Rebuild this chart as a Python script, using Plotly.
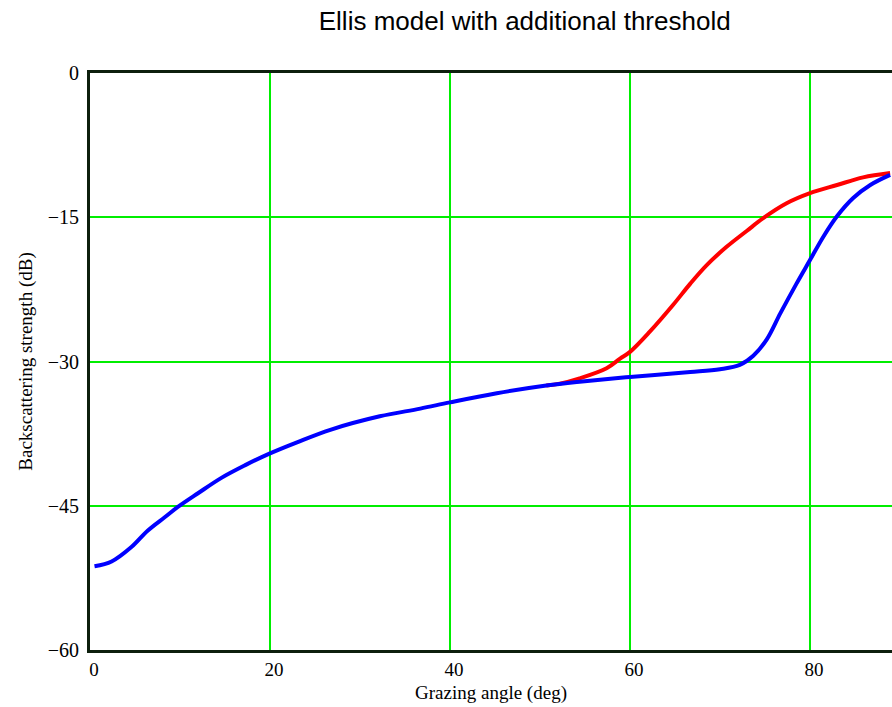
import plotly.graph_objects as go

# Grazing angle (deg) and backscattering strength (dB)
blue_x = [0.5, 2.4, 4.6, 6.4, 8.3, 9.8, 12, 14.6, 17.2, 20, 23, 26.7, 32.2, 36.7,
          40, 45.2, 50.7, 54.4, 60, 66.7, 70, 72.2, 73.7, 75.2, 76.7, 78.5, 80,
          81.5, 83, 84.8, 86.7, 88.9]
blue_y = [-51.3, -50.8, -49.3, -47.6, -46.2, -45.1, -43.7, -42.1, -40.8, -39.55,
          -38.4, -37.1, -35.7, -34.9, -34.25, -33.3, -32.5, -32.1, -31.6, -31.1,
          -30.8, -30.35, -29.4, -27.7, -25.0, -21.9, -19.45, -17.0, -14.9, -13.0,
          -11.65, -10.6]

red_x = [50.7, 52.2, 54.4, 57.4, 58.9, 60, 62.2, 64.8, 66.7, 68.5, 70.7, 73, 74.8,
         77.4, 80, 83, 85.9, 88.9]
red_y = [-32.5, -32.3, -31.75, -30.7, -29.7, -29.0, -26.9, -24.1, -21.9, -20.0,
         -18.1, -16.4, -15.1, -13.55, -12.5, -11.65, -10.85, -10.4]

x_ticks = [0, 20, 40, 60, 80]
y_ticks = [0, -15, -30, -45, -60]

GRID = "#00ee00"
FRAME = "#0d1f0d"
SERIF = "Liberation Serif, Times New Roman, serif"

fig = go.Figure()
fig.add_trace(go.Scatter(x=red_x, y=red_y, mode="lines",
                         line=dict(color="#ff0000", width=4, shape="spline", smoothing=1.0),
                         hoverinfo="skip", showlegend=False))
fig.add_trace(go.Scatter(x=blue_x, y=blue_y, mode="lines",
                         line=dict(color="#0000ff", width=4, shape="spline", smoothing=1.0),
                         hoverinfo="skip", showlegend=False))

fig.update_layout(
    width=892, height=707,
    margin=dict(l=90, r=0, t=73, b=57),
    paper_bgcolor="white", plot_bgcolor="white",
    title=dict(text="Ellis model with additional threshold",
               font=dict(family="Liberation Sans, Arial, sans-serif", size=26, color="black"),
               xref="paper", x=0.542, xanchor="center",
               yref="container", y=1 - 21 / 707, yanchor="middle"),
)

fig.update_xaxes(
    range=[0, 802 / 9], tickvals=x_ticks, ticktext=[str(v) for v in x_ticks],
    showgrid=True, gridcolor=GRID, gridwidth=2, zeroline=False,
    showline=True, linecolor=FRAME, linewidth=3, mirror=True,
    ticks="", ticklabelshift=4,
    tickfont=dict(family=SERIF, size=19, color="black"),
    title=dict(text="Grazing angle (deg)", font=dict(family=SERIF, size=19, color="black"),
               standoff=7),
)
fig.update_yaxes(
    range=[-60, 0], tickvals=y_ticks,
    ticktext=[("\u2212" + str(-v)) if v < 0 else str(v) for v in y_ticks],
    showgrid=True, gridcolor=GRID, gridwidth=2, zeroline=False,
    showline=True, linecolor=FRAME, linewidth=3, mirror=False,
    ticks="", ticklabelstandoff=4,
    tickfont=dict(family=SERIF, size=20, color="black"),
    title=dict(text="Backscattering strength (dB)", font=dict(family=SERIF, size=19, color="black"),
               standoff=11),
)

fig.write_html("out.html")
